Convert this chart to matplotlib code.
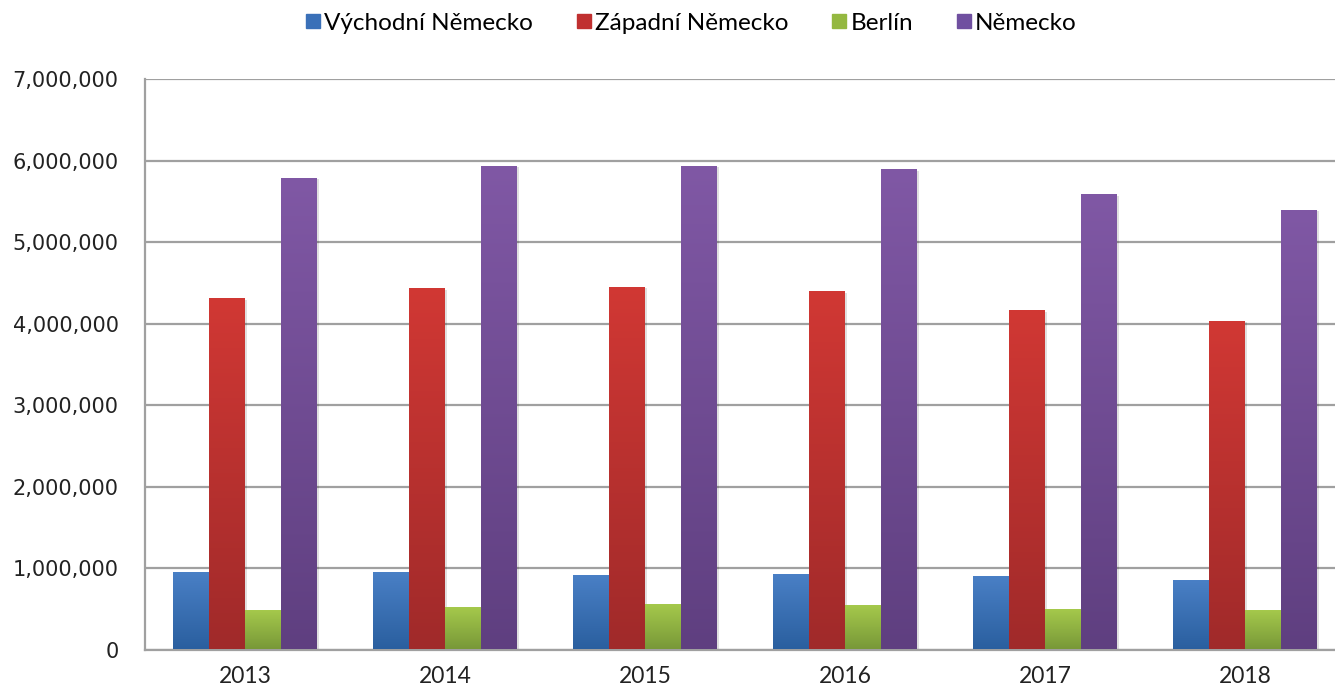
import matplotlib
matplotlib.use("Agg")
import matplotlib.pyplot as plt
import numpy as np
from matplotlib.colors import LinearSegmentedColormap
from matplotlib.lines import Line2D
from matplotlib.ticker import FuncFormatter

# --- data ---
years = ["2013", "2014", "2015", "2016", "2017", "2018"]
vychodni = [955000, 951000, 918000, 927000, 906000, 849000]
zapadni = [4310000, 4434000, 4450000, 4397000, 4164000, 4036000]
berlin = [490000, 525000, 555000, 546000, 500000, 485000]
nemecko = [5785000, 5935000, 5935000, 5895000, 5588000, 5395000]

series = [
    ("Východní Německo", vychodni, "#4a80c6", "#2a5f9f", "#3a70b8"),
    ("Západní Německo", zapadni, "#d13834", "#a02a2a", "#c03030"),
    ("Berlín", berlin, "#a6ca4c", "#789838", "#94b840"),
    ("Německo", nemecko, "#8058a5", "#5f3f80", "#7050a0"),
]

fig = plt.figure(figsize=(13.35, 6.95), dpi=100)
ax = fig.add_axes([145 / 1335, (695 - 649.5) / 695, 1 - 145 / 1335, (649.5 - 79.3) / 695])

x = np.arange(len(years))
width = 0.18
offsets = (np.arange(4) - 1.5) * width

# 0 at the bottom of each bar, 1 at the top
grad = np.linspace(0, 1, 256).reshape(-1, 1)
handles = []
for i, (name, vals, top, bottom, legc) in enumerate(series):
    bars = ax.bar(x + offsets[i], vals, width, color="none", edgecolor="none", zorder=3)
    cmap = LinearSegmentedColormap.from_list(name, [bottom, top])
    for b in bars:
        x0, y0 = b.get_x(), b.get_y()
        w, h = b.get_width(), b.get_height()
        # soft shadow behind bar
        sh = plt.Rectangle((x0 + 0.008, y0), w, h - 15000, color="#000000", alpha=0.12,
                           zorder=2, linewidth=0)
        ax.add_patch(sh)
        im = ax.imshow(grad, extent=(x0, x0 + w, y0, y0 + h), aspect="auto",
                       cmap=cmap, vmin=0, vmax=1, origin="lower", zorder=3,
                       interpolation="bilinear")
        im.set_clip_path(b)
    handles.append(Line2D([], [], marker="s", linestyle="none", markersize=10,
                          markerfacecolor=legc, markeredgecolor=legc, label=name))

ax.set_xlim(-0.5, -0.5 + 1190 / 200)
ax.set_ylim(0, 7000000)
ax.set_yticks(np.arange(0, 7000001, 1000000))
ax.yaxis.set_major_formatter(FuncFormatter(lambda v, p: f"{int(v):,}"))
ax.set_xticks(x)
ax.set_xticklabels(years, fontfamily="Lato", fontsize=16.5, color="#222222")

ax.grid(axis="y", color="#a0a0a0", linewidth=1.6, zorder=1)
ax.set_axisbelow(True)
for s in ["top", "right"]:
    ax.spines[s].set_visible(False)
for s in ["left", "bottom"]:
    ax.spines[s].set_color("#a0a0a0")
    ax.spines[s].set_linewidth(1.6)

ax.tick_params(axis="y", length=0, pad=19, labelsize=15, labelcolor="#222222")
ax.tick_params(axis="x", length=0, pad=12)

fig.legend(handles=handles, loc="center", bbox_to_anchor=(690 / 1335, 1 - 23 / 695),
           ncol=4, frameon=False, prop={"family": "Lato", "size": 17.5},
           handletextpad=0.05, columnspacing=1.7, handlelength=0.8)

fig.savefig("out.png", dpi=100)
